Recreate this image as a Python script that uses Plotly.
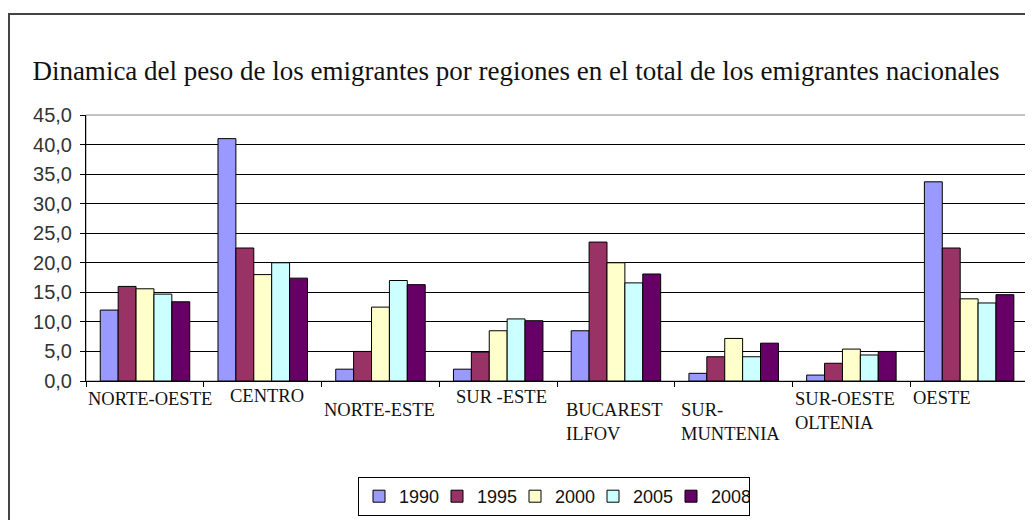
import plotly.graph_objects as go

# ---- data ----
categories = ["NORTE-OESTE", "CENTRO", "NORTE-ESTE", "SUR -ESTE", "BUCAREST ILFOV",
              "SUR-MUNTENIA", "SUR-OESTE OLTENIA", "OESTE"]
tick_labels = ["NORTE-OESTE", "CENTRO", "NORTE-ESTE", "SUR -ESTE", "BUCAREST<br>ILFOV",
               "SUR-<br>MUNTENIA", "SUR-OESTE<br>OLTENIA", "OESTE"]
years = ["1990", "1995", "2000", "2005", "2008"]
v1990 = [12.0, 41.0, 2.0, 2.0, 8.5, 1.3, 1.0, 33.7]
v1995 = [16.0, 22.5, 5.0, 4.9, 23.5, 4.1, 3.0, 22.5]
v2000 = [15.6, 18.0, 12.5, 8.5, 20.0, 7.2, 5.4, 13.9]
v2005 = [14.7, 20.0, 17.0, 10.5, 16.6, 4.1, 4.4, 13.2]
v2008 = [13.4, 17.4, 16.3, 10.2, 18.1, 6.4, 5.0, 14.6]
series = [v1990, v1995, v2000, v2005, v2008]
title_text = "Dinamica del peso de los emigrantes por regiones en el total de los emigrantes nacionales"

# ---- styles ----
colors = ["#9999FF", "#993366", "#FFFFCC", "#CCFFFF", "#660066"]
OFF = 8  # default page body margin
W, H = 1033 - OFF, 520 - OFF
# target page-pixel positions of the plot area: left 86, right 1028, top 115, bottom 381
ML, MR, MT, MB = 86 - OFF, 1033 - 1028, 115 - OFF, 520 - 381
PW, PH = W - ML - MR, H - MT - MB
label_xshift = [-59, -35, -58, -44, -52, -55, -58, -58]
label_yshift = [-6, -3, -17, -4, -17, -17, -6, -5]


def px_x(p):  # page pixel -> paper x
    return (p - OFF - ML) / PW


def px_y(p):  # page pixel -> paper y
    return (H - MB - (p - OFF)) / PH


def cx(p):  # page pixel -> container x
    return (p - OFF) / W


def cy(p):  # page pixel -> container y
    return 1 - (p - OFF) / H


fig = go.Figure()
for name, vals, col in zip(years, series, colors):
    fig.add_trace(go.Bar(
        x=categories, y=vals, name=name,
        marker=dict(color=col, line=dict(color="black", width=1)),
    ))

annotations = []
for cat, lab, xs, ys in zip(categories, tick_labels, label_xshift, label_yshift):
    annotations.append(dict(
        x=cat, y=0, xref="x", yref="y", text=lab, showarrow=False,
        xanchor="left", yanchor="top", align="left", xshift=xs, yshift=ys,
        font=dict(family="Liberation Serif", size=18.5, color="#111111"),
    ))

shapes = [
    # outer chart border
    dict(type="rect", xref="paper", yref="paper",
         x0=px_x(9), y0=px_y(14), x1=px_x(1045), y1=px_y(530),
         line=dict(color="#444444", width=2), layer="below"),
    # plot area border
    dict(type="rect", xref="paper", yref="paper", x0=0, y0=0, x1=1, y1=1,
         line=dict(color="#888888", width=1), layer="below"),
]

fig.update_layout(
    width=W, height=H,
    margin=dict(l=ML, r=MR, t=MT, b=MB, pad=0, autoexpand=False),
    paper_bgcolor="white", plot_bgcolor="white",
    barmode="group", bargap=0.24, bargroupgap=0,
    separators=",.",
    title=dict(text=title_text, x=cx(516), xref="container", xanchor="center",
               y=cy(71), yref="container", yanchor="middle",
               font=dict(family="Liberation Serif", size=27, color="#111111")),
    xaxis=dict(type="category", showticklabels=False, tickson="boundaries",
               ticks="outside", ticklen=5, tickcolor="black",
               showline=True, linecolor="black", linewidth=1,
               showgrid=False, zeroline=False, fixedrange=True, automargin=False),
    yaxis=dict(range=[0, 45], dtick=5, tickformat=".1f",
               ticks="outside", ticklen=5, tickcolor="black",
               showline=True, linecolor="black", linewidth=1,
               showgrid=True, gridcolor="black", gridwidth=1,
               zeroline=False, automargin=False, ticklabelstandoff=4,
               tickfont=dict(family="Liberation Sans", size=20, color="#333333")),
    legend=dict(orientation="h", xref="container", yref="container",
                x=cx(554), xanchor="center",
                y=cy(477), yanchor="top",
                bordercolor="black", borderwidth=1, bgcolor="white",
                itemwidth=30, traceorder="normal",
                entrywidth=33, entrywidthmode="pixels",
                font=dict(family="Liberation Sans", size=18, color="#111111")),
    annotations=annotations,
    shapes=shapes,
)

fig.write_html("out.html")
